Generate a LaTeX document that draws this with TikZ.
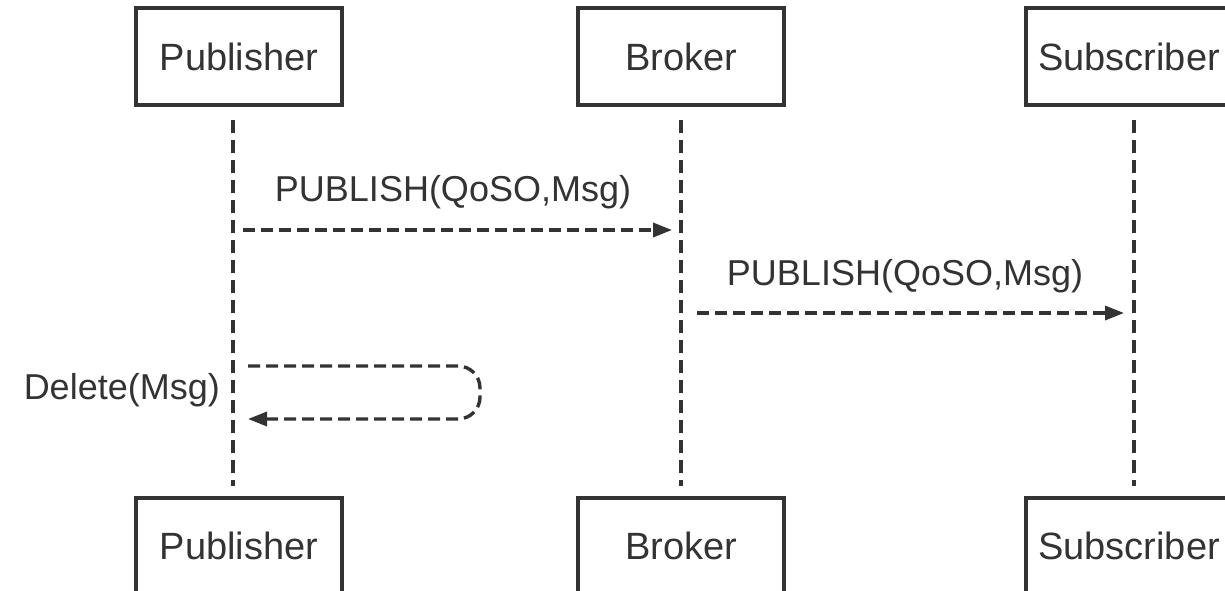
\documentclass[tikz,border=0pt]{standalone}
\usepackage{fontspec}
\setmainfont{Liberation Sans}
\usetikzlibrary{arrows.meta}
\definecolor{ink}{HTML}{333333}
\begin{document}
\begin{tikzpicture}[x=1pt,y=-1pt,
  actor/.style={draw=ink,line width=4pt,minimum width=206pt,minimum height=97pt,inner sep=0pt,text=ink,font=\fontsize{38}{46}\selectfont},
  life/.style={draw=ink,line width=3.4pt,dash pattern=on 13pt off 7pt},
  msg/.style={draw=ink,line width=3.4pt,dash pattern=on 12pt off 6pt,-{Triangle[length=19pt,width=14pt]}},
  lbl/.style={text=ink,font=\fontsize{36}{44}\selectfont,inner sep=0pt}]
\useasboundingbox (0,0) rectangle (1225,591);
\node[actor] (pt) at (239,57) {Publisher};
\node[actor] (bt) at (681,57) {Broker};
\node[actor] (st) at (1129,57) {Subscriber};
\node[actor] (pb) at (239,546) {Publisher};
\node[actor] (bb) at (681,546) {Broker};
\node[actor] (sb) at (1129,546) {Subscriber};
\coordinate (pl1) at (233,120); \coordinate (pl2) at (233,486);
\coordinate (bl1) at (681,120); \coordinate (bl2) at (681,486);
\coordinate (sl1) at (1134,120); \coordinate (sl2) at (1134,486);
\draw[life] (pl1) -- (pl2);
\draw[life] (bl1) -- (bl2);
\draw[life] (sl1) -- (sl2);
\coordinate (a1s) at (243,230); \coordinate (a1e) at (672,230);
\draw[msg] (a1s) -- (a1e);
\node[lbl] (l1) at (453,192) {PUBLISH(QoSO,Msg)};
\coordinate (a2s) at (697,313); \coordinate (a2e) at (1124,313);
\draw[msg] (a2s) -- (a2e);
\node[lbl] (l2) at (905,276) {PUBLISH(QoSO,Msg)};
\coordinate (d1) at (248,366); \coordinate (d2) at (248,419);
\draw[msg,rounded corners=22pt] (d1) -- (480,366) -- (480,419) -- (d2);
\node[lbl,anchor=east] (l3) at (220,390) {Delete(Msg)};
\end{tikzpicture}
\end{document}
